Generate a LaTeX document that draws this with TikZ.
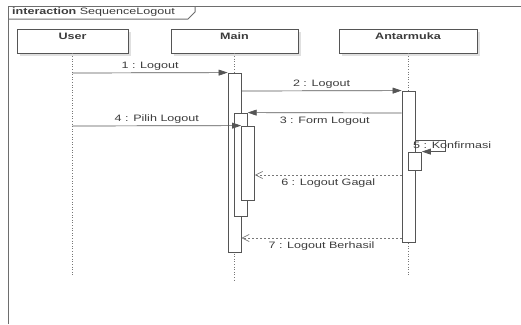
\documentclass[tikz,border=0pt]{standalone}
\usepackage{fontspec}
\setmainfont[FakeStretch=1.35]{Liberation Sans}
\usetikzlibrary{arrows.meta,shadows}
\definecolor{ln}{HTML}{555555}
\definecolor{tx}{HTML}{3C3C3C}
\definecolor{fr}{HTML}{6E6E6E}
\begin{document}
\begin{tikzpicture}[x=1pt,y=-1pt,
  every node/.style={text=tx, font=\fontsize{9.3}{11}\selectfont},
  head/.style={draw=ln, fill=white, line width=0.8pt, minimum height=24pt, inner sep=0pt,
    general shadow={fill=black!12, shadow xshift=3pt, shadow yshift=-3pt}},
  headtext/.style={inner sep=0pt, anchor=north, font=\bfseries\fontsize{9.3}{11}\selectfont},
  act/.style={draw=ln, fill=white, line width=0.8pt, minimum width=13pt, inner sep=0pt},
  life/.style={draw=ln!80, line width=0.9pt, dash pattern=on 1pt off 1.6pt},
  msg/.style={draw=ln, line width=0.7pt, -{Triangle[length=9pt,width=6pt]}},
  ret/.style={draw=ln!80, line width=0.7pt, dash pattern=on 2pt off 2pt, -{Straight Barb[length=7pt,width=7pt]}},
  labup/.style={midway, above, inner sep=2pt},
  labdn/.style={midway, below, inner sep=3.5pt},
  frame/.style={draw=fr, line width=1pt}]
\useasboundingbox (0,0) rectangle (521,324);
% frame
\draw[frame] (8,324) -- (8,6) -- (521,6);
\draw[frame] (8,19) -- (188,19) -- (195,12) -- (195,6);
\node[anchor=west, inner sep=0pt] (title) at (12,12.5) {\textbf{interaction} SequenceLogout};
% heads
\node[head, minimum width=111pt] (user) at (72.5,41) {};
\node[head, minimum width=127pt] (main) at (234.5,41) {};
\node[head, minimum width=138pt] (ant) at (408,41) {};
\node[headtext] (usert) at ([yshift=-4pt]user.north) {User};
\node[headtext] (maint) at ([yshift=-4pt]main.north) {Main};
\node[headtext] (antt) at ([yshift=-4pt]ant.north) {Antarmuka};
% lifeline ends
\coordinate (uend) at (72.5,276);
\coordinate (mend) at (234.5,280);
\coordinate (aend) at (408.5,276);
\draw[life] (user.south) -- (uend);
\draw[life] (main.south) -- (mend);
\draw[life] ([xshift=0.5pt]ant.south) -- (aend);
% activations
\node[act, minimum height=179pt] (m1) at (234.5,162.5) {};
\node[act, minimum height=103pt] (m2) at (240.8,164.5) {};
\node[act, minimum height=74pt] (m3) at (248,163) {};
\node[act, minimum height=151pt] (a1) at (408.5,166.5) {};
\node[act, minimum height=18pt] (a2) at (415,161) {};
% messages
\draw[msg] (user.south |- 0,73) -- (m1.north west) node[labup] (l1) {1 : Logout};
\draw[msg] (m1.east |- 0,91) -- (a1.north west) node[labup] (l2) {2 : Logout};
\draw[msg] (a1.west |- 0,113) -- (m2.north east) node[labdn] (l3) {3 : Form Logout};
\draw[msg] (user.south |- 0,126) -- (m3.north west) node[labup] (l4) {4 : Pilih Logout};
\coordinate (s5) at (445,140);
\draw[msg] (a1.east |- 0,140) -- (s5) |- (a2.north east);
\node[anchor=west, inner sep=0pt] (l5) at (413,145.5) {5 : Konfirmasi};
\draw[ret] (a1.west |- 0,175) -- (m3.east |- 0,175) node[labdn] (l6) {6 : Logout Gagal};
\draw[ret] (a1.west |- 0,238) -- (m1.east |- 0,238) node[labdn] (l7) {7 : Logout Berhasil};
\end{tikzpicture}
\end{document}
